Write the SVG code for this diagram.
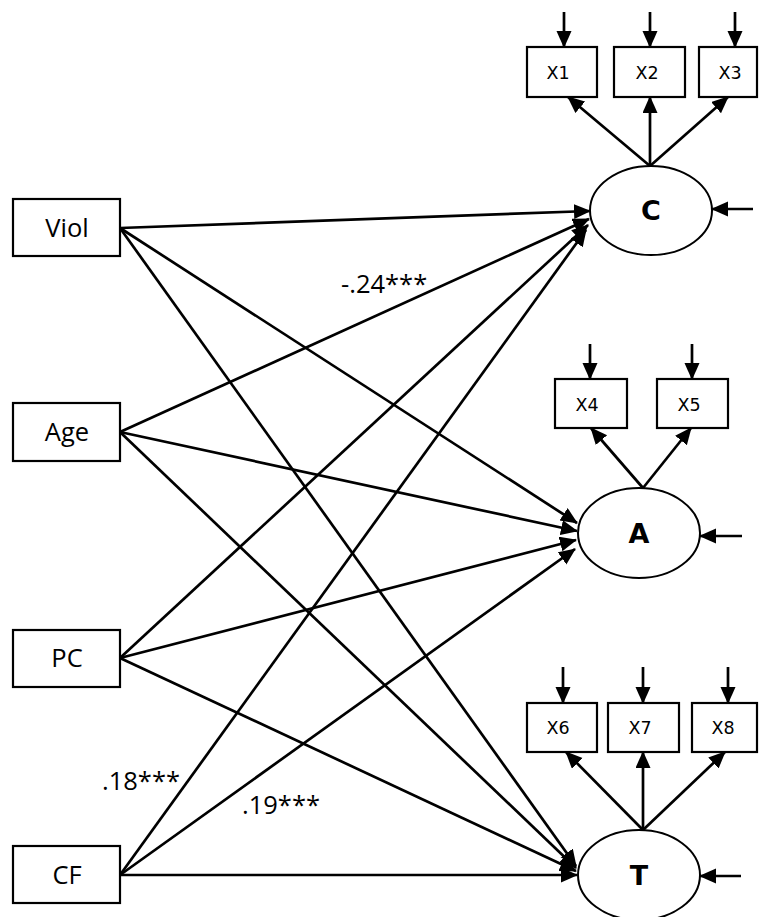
<svg xmlns="http://www.w3.org/2000/svg" width="759" height="917" viewBox="0 0 759 917">
<style>
.box{fill:#fff;stroke:#000;stroke-width:2.2}
.ell{fill:#fff;stroke:#000;stroke-width:2}
.lbl{font-family:"Open Sans","Liberation Sans",sans-serif;font-size:25.5px;fill:#000;text-anchor:middle}
.ind{font-family:"DejaVu Sans","Verdana",sans-serif;font-size:17.5px;fill:#000;text-anchor:middle}
.lat{font-family:"DejaVu Sans",sans-serif;font-weight:bold;font-size:27px;fill:#000;text-anchor:middle}
.coef{font-family:"Open Sans","Liberation Sans",sans-serif;font-size:25.5px;fill:#000}
.e{fill:none;stroke:#000;stroke-width:2.7;marker-end:url(#ah)}
</style>
<defs>
<marker id="ah" markerUnits="userSpaceOnUse" markerWidth="18" markerHeight="16" refX="16" refY="7.5" orient="auto">
<path d="M0,0 L17,7.5 L0,15 z" fill="#000"/>
</marker>
</defs>
<g id="connectors">
<line class="e" x1="120" y1="228" x2="590" y2="211"/>
<line class="e" x1="120" y1="432" x2="589" y2="219"/>
<line class="e" x1="120" y1="658" x2="588" y2="225"/>
<line class="e" x1="120" y1="875" x2="586" y2="230"/>
<line class="e" x1="120" y1="228" x2="577" y2="523"/>
<line class="e" x1="120" y1="432" x2="577" y2="531"/>
<line class="e" x1="120" y1="658" x2="576" y2="540"/>
<line class="e" x1="120" y1="875" x2="575" y2="549"/>
<line class="e" x1="120" y1="228" x2="576" y2="866"/>
<line class="e" x1="120" y1="432" x2="576" y2="868"/>
<line class="e" x1="120" y1="658" x2="576" y2="871"/>
<line class="e" x1="120" y1="875" x2="577" y2="875"/>
<line class="e" x1="650" y1="166" x2="568" y2="97"/>
<line class="e" x1="650" y1="166" x2="650" y2="97"/>
<line class="e" x1="650" y1="166" x2="728" y2="97"/>
<line class="e" x1="643" y1="488" x2="591" y2="428"/>
<line class="e" x1="643" y1="488" x2="691" y2="428"/>
<line class="e" x1="643" y1="830" x2="566" y2="752"/>
<line class="e" x1="643" y1="830" x2="643" y2="752"/>
<line class="e" x1="643" y1="830" x2="725" y2="752"/>
<line class="e" x1="564" y1="12" x2="564" y2="47"/>
<line class="e" x1="650" y1="12" x2="650" y2="47"/>
<line class="e" x1="735" y1="12" x2="735" y2="47"/>
<line class="e" x1="590" y1="344" x2="590" y2="379"/>
<line class="e" x1="692" y1="344" x2="692" y2="379"/>
<line class="e" x1="563" y1="667" x2="563" y2="703"/>
<line class="e" x1="643" y1="667" x2="643" y2="703"/>
<line class="e" x1="728" y1="667" x2="728" y2="703"/>
<line class="e" x1="753" y1="209" x2="712" y2="209"/>
<line class="e" x1="742" y1="536" x2="700" y2="536"/>
<line class="e" x1="741" y1="876" x2="700" y2="876"/>
</g>
<g id="Viol"><rect class="box" x="13" y="199" width="107" height="57"/><text class="lbl" x="67" y="237">Viol</text></g>
<g id="Age"><rect class="box" x="13" y="403" width="107" height="58"/><text class="lbl" x="67" y="441">Age</text></g>
<g id="PC"><rect class="box" x="13" y="630" width="107" height="57"/><text class="lbl" x="67" y="667">PC</text></g>
<g id="CF"><rect class="box" x="13" y="846" width="107" height="57"/><text class="lbl" x="67" y="884">CF</text></g>
<g id="C"><ellipse class="ell" cx="651" cy="210.5" rx="61" ry="44.5"/><text class="lat" x="651" y="220">C</text></g>
<g id="A"><ellipse class="ell" cx="639" cy="533" rx="61" ry="45"/><text class="lat" x="639" y="543">A</text></g>
<g id="T"><ellipse class="ell" cx="639" cy="875" rx="61" ry="45"/><text class="lat" x="639" y="885">T</text></g>
<g id="X1"><rect class="box" x="527" y="47" width="70" height="50"/><text class="ind" x="558" y="79">X1</text></g>
<g id="X2"><rect class="box" x="614" y="47" width="71" height="50"/><text class="ind" x="647" y="79">X2</text></g>
<g id="X3"><rect class="box" x="699" y="47" width="58" height="50"/><text class="ind" x="730" y="79">X3</text></g>
<g id="X4"><rect class="box" x="555" y="379" width="72" height="49"/><text class="ind" x="587" y="411">X4</text></g>
<g id="X5"><rect class="box" x="657" y="379" width="71" height="49"/><text class="ind" x="689" y="411">X5</text></g>
<g id="X6"><rect class="box" x="527" y="703" width="70" height="49"/><text class="ind" x="558" y="734">X6</text></g>
<g id="X7"><rect class="box" x="608" y="703" width="71" height="49"/><text class="ind" x="640" y="734">X7</text></g>
<g id="X8"><rect class="box" x="692" y="703" width="65" height="49"/><text class="ind" x="723" y="734">X8</text></g>
<g id="labels">
<text class="coef" x="341" y="293">-.24***</text>
<text class="coef" x="102" y="790">.18***</text>
<text class="coef" x="242" y="814">.19***</text>
</g>
</svg>
